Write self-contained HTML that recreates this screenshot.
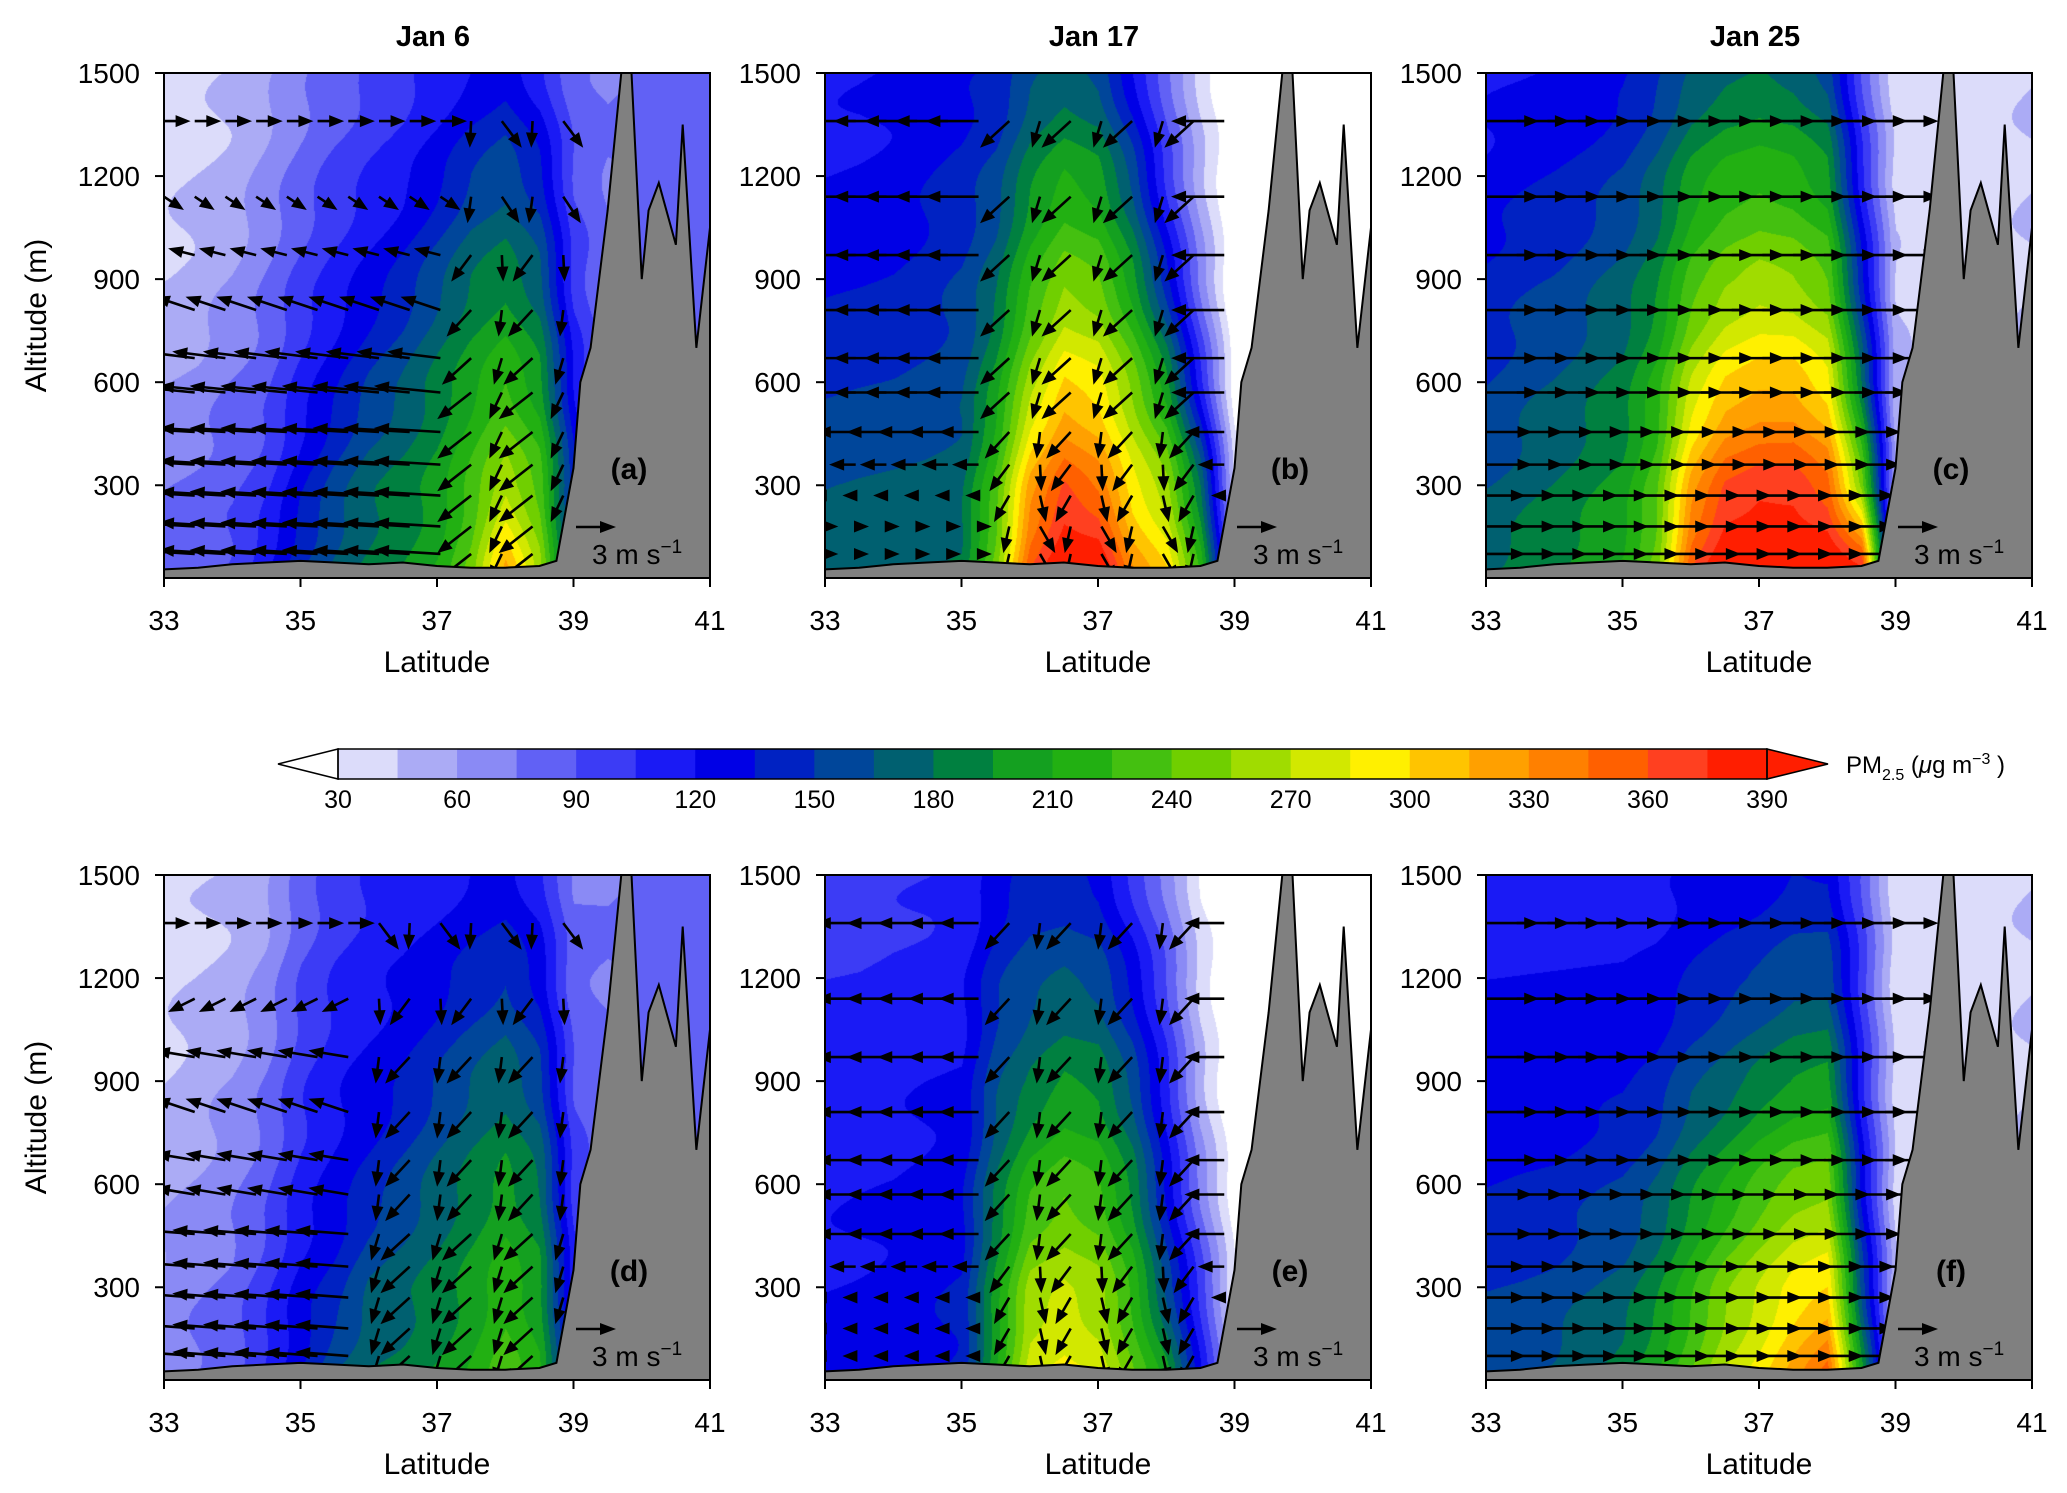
<!DOCTYPE html>
<html><head><meta charset="utf-8"><style>
body{margin:0;background:#fff;width:2067px;height:1493px;overflow:hidden;position:relative;font-family:"Liberation Sans",sans-serif}
canvas{position:absolute}
svg{position:absolute;left:0;top:0}
</style></head><body>
<div id="canv"></div>
<svg id="main" width="2067" height="1493"></svg>
<script>
// ---- data ----
const lats = [33,33.5,34,34.5,35,35.5,36,36.5,37,37.5,38,38.5,39,39.5,40,40.5,41];
const alts = [50,300,600,900,1200,1500];
const levels = [30,45,60,75,90,105,120,135,150,165,180,195,210,225,240,255,270,285,300,315,330,345,360,375,390];
const colorsPM = ["#dcdcfa","#ababf5","#8a8af5","#6161f5","#3c3cf5","#1a1af5","#0000e6","#0022c2","#00469a","#006070","#008040","#14a020","#22b012","#44c010","#70cf00","#a0dc00","#d2e800","#fff000","#ffc400","#ffa000","#ff8000","#ff6000","#ff4020","#ff1e00"];
const terrainLat = [33,33.5,34,34.5,35,35.5,36,36.5,37,37.5,38,38.5,38.75,39,39.1,39.25,39.5,39.7,39.85,40,40.1,40.25,40.5,40.6,40.8,41];
const terrainAlt = [55,60,70,75,80,75,70,75,65,60,60,65,80,350,600,700,1100,1500,1500,900,1100,1180,1000,1350,700,1050];
const fieldA = [[80,75,60,45,40,40],[85,80,65,50,45,40],[95,85,75,60,50,45],[120,100,85,75,65,55],[150,130,110,95,80,70],[170,155,130,110,95,80],[185,175,150,125,105,90],[195,185,165,140,115,100],[210,200,185,160,130,110],[245,230,205,180,150,120],[320,265,225,190,160,130],[260,235,200,170,140,110],[140,140,120,100,90,80],[75,75,75,75,75,75],[80,80,80,80,80,80],[80,80,80,80,80,80],[80,80,80,80,80,80]];
const fieldB = [[175,165,145,130,120,115],[178,168,148,132,122,117],[180,170,150,135,125,120],[182,172,155,142,132,125],[185,175,160,150,140,130],[250,230,200,175,155,135],[360,320,260,220,190,160],[400,360,300,250,210,170],[400,340,290,240,200,160],[330,290,250,200,160,120],[300,260,200,140,100,80],[220,180,110,70,50,40],[60,40,20,10,10,10],[15,15,15,15,15,15],[20,20,20,20,20,20],[20,20,20,20,20,20],[20,20,20,20,20,20]];
const fieldC = [[180,165,150,140,125,115],[188,172,158,145,130,117],[195,180,165,150,135,120],[205,190,175,160,142,125],[215,200,185,170,150,130],[250,235,215,190,170,145],[360,320,270,230,200,165],[400,360,300,250,215,175],[400,370,310,260,220,180],[400,370,310,255,215,175],[400,350,290,240,200,160],[380,250,180,140,110,90],[50,50,50,45,40,35],[35,35,35,35,35,35],[35,35,35,35,35,35],[40,40,40,40,40,40],[45,45,45,45,45,45]];
const fieldD = [[70,65,55,45,40,40],[78,72,62,52,45,42],[85,80,70,60,50,45],[110,100,85,75,65,55],[135,125,110,100,90,80],[165,140,125,115,105,95],[180,165,140,125,115,105],[185,175,155,135,120,110],[195,185,170,150,130,115],[210,200,185,165,140,120],[235,220,200,175,150,125],[210,200,180,155,130,110],[120,110,100,90,80,75],[75,75,75,75,75,75],[80,80,80,80,80,80],[80,80,80,80,80,80],[80,80,80,80,80,80]];
const fieldE = [[125,120,115,110,105,95],[128,122,118,112,106,97],[130,125,120,115,110,100],[135,130,125,118,112,102],[140,135,130,120,115,105],[210,200,180,160,145,125],[280,260,220,180,160,140],[290,270,235,195,165,140],[280,260,225,190,160,130],[240,220,190,160,130,100],[200,160,130,110,90,70],[120,100,70,50,40,30],[40,30,20,10,10,10],[15,15,15,15,15,15],[15,15,15,15,15,15],[15,15,15,15,15,15],[15,15,15,15,15,15]];
const fieldF = [[160,150,135,125,120,115],[165,152,138,125,120,115],[170,155,140,125,120,115],[180,162,145,128,120,115],[190,170,150,130,120,115],[210,190,165,140,125,115],[240,220,190,160,135,120],[270,250,210,170,145,125],[290,270,230,185,150,130],[320,290,245,195,160,135],[350,300,250,200,160,135],[200,160,130,110,100,90],[50,45,40,40,35,35],[35,35,35,35,35,35],[35,35,35,35,35,35],[40,40,40,40,40,40],[45,45,45,45,45,45]];
const arrowAlts = [100,180,270,360,455,570,670,810,970,1140,1360];
const arrowLats = [33.0,33.45,33.9,34.35,34.8,35.25,35.7,36.15,36.6,37.05,37.5,37.95,38.4,38.85];
const uA = [-5,-5,-5,-5,-5,-5,-4,-3,-2,1.5,2];
const uB = [1,1,-1,-2,-3,-4,-4,-4,-4,-4,-4];
const uC = [3,3,3,3.5,3.5,4,4,4,4,4,4];
const uD = [-4,-4,-4,-4,-4,-3,-3,-3,-3,-2,2];
const uE = [-1,-1,-1,-2,-3,-3,-3,-3,-3,-3,-3];
const uF = [3,3,3,3,3.5,3.5,4,4,4,4,4];
const wA = [0.3,0.3,0.3,0.3,0.3,0.5,0.5,1,0.5,-1,0];
const plumeA=[37.4,38.9], plumeB=[35.4,38.5], plumeC=[0,0], plumeD=[36,38.9], plumeE=[35.4,38.5], plumeF=[0,0];
const xTicks=[33,35,37,39,41], yTicks=[300,600,900,1200,1500];
const cbTicks=[30,60,90,120,150,180,210,240,270,300,330,360,390];

const panels=[
 {id:'a',title:'Jan 6',x0:164,y0:73,field:fieldA,u:uA,w:wA,plume:plumeA,ylab:true},
 {id:'b',title:'Jan 17',x0:825,y0:73,field:fieldB,u:uB,w:null,plume:plumeB},
 {id:'c',title:'Jan 25',x0:1486,y0:73,field:fieldC,u:uC,w:null,plume:plumeC},
 {id:'d',x0:164,y0:875,field:fieldD,u:uD,w:wA,plume:plumeD,ylab:true},
 {id:'e',x0:825,y0:875,field:fieldE,u:uE,w:null,plume:plumeE},
 {id:'f',x0:1486,y0:875,field:fieldF,u:uF,w:null,plume:plumeF}];
const PW=546, PH=505, ZMIN=30, ZMAX=1500, K=13.3;
const NS='http://www.w3.org/2000/svg';
const svg=document.getElementById('main');
function el(tag,attrs,parent,txt){const e=document.createElementNS(NS,tag);for(const k in attrs)e.setAttribute(k,attrs[k]);if(txt!==undefined)e.textContent=txt;(parent||svg).appendChild(e);return e;}
function interp(xs,ys,x){if(x<=xs[0])return ys[0];for(let i=1;i<xs.length;i++){if(x<=xs[i]){const t=(x-xs[i-1])/(xs[i]-xs[i-1]);return ys[i-1]+t*(ys[i]-ys[i-1]);}}return ys[ys.length-1];}
function colorIdx(v){if(v<levels[0])return -1;let i=Math.floor((v-levels[0])/15);return Math.min(i,23);}
function hex(c){return [parseInt(c.substr(1,2),16),parseInt(c.substr(3,2),16),parseInt(c.substr(5,2),16)];}
const rgb=colorsPM.map(hex);

panels.forEach(p=>{
 const sx=lat=>p.x0+(lat-33)/8*PW;
 const sy=z=>p.y0+PH-(z-ZMIN)/(ZMAX-ZMIN)*PH;
 const c=document.createElement('canvas');c.width=PW;c.height=PH;c.style.left=p.x0+'px';c.style.top=p.y0+'px';
 
 
 document.getElementById('canv').appendChild(c);
 const ctx=c.getContext('2d');const img=ctx.createImageData(PW,PH);
 const cols=lats.map((l,i)=>p.field[i]);
 for(let px=0;px<PW;px++){
  const lat=33+px/PW*8;
  let i=Math.min(Math.floor((lat-33)/0.5),15);const t=(lat-lats[i])/0.5;
  const prof=alts.map((a,k)=>cols[i][k]*(1-t)+cols[i+1][k]*t);
  for(let py=0;py<PH;py++){
   const z=ZMAX-(py/PH)*(ZMAX-ZMIN);
   const v=interp(alts,prof,z)+3*Math.sin(py*0.06+px*0.01);
   const ci=colorIdx(v);const o=(py*PW+px)*4;
   const col=ci<0?[255,255,255]:rgb[ci];
   img.data[o]=col[0];img.data[o+1]=col[1];img.data[o+2]=col[2];img.data[o+3]=255;}
 }
 ctx.putImageData(img,0,0);
 const cid='clip'+p.id;const cp=el('clipPath',{id:cid});el('rect',{x:p.x0,y:p.y0,width:PW,height:PH},cp);
 const g=el('g',{'clip-path':'url(#'+cid+')'});
 
 
 arrowAlts.forEach((a,r)=>{arrowLats.forEach((la,ci)=>{
   const terr=interp(terrainLat,terrainAlt,la);if(a<terr+20)return;
   let u=p.u[r],w=p.w?p.w[r]:0;
   if(la>=p.plume[0]&&la<=p.plume[1]){w=-2;u=u*0.35+((ci%2)?0.8:-0.8);}
   const x1=sx(la),y1=sy(a),x2=x1+u*K,y2=y1-w*K;
   const L=Math.hypot(x2-x1,y2-y1);if(L<3)return;
   const ux=(x2-x1)/L,uy=(y2-y1)/L;
   el('line',{x1,y1,x2:x2-ux*8,y2:y2-uy*8,stroke:'#000','stroke-width':2.6},g);
   el('polygon',{points:`${x2},${y2} ${x2-ux*15-uy*6},${y2-uy*15+ux*6} ${x2-ux*15+uy*6},${y2-uy*15-ux*6}`,fill:'#000'},g);
 });});
 let pts=`${sx(33)},${p.y0+PH} `;terrainLat.forEach((l,i)=>{pts+=`${sx(l)},${Math.max(sy(terrainAlt[i]),p.y0)} `;});pts+=`${sx(41)},${p.y0+PH}`;
 const tp=el('polygon',{points:pts,fill:'#808080',stroke:'#000','stroke-width':2},g);
 
 
 el('rect',{x:p.x0,y:p.y0,width:PW,height:PH,fill:'none',stroke:'#000','stroke-width':2});
 xTicks.forEach(v=>{const x=sx(v);el('line',{x1:x,y1:p.y0+PH,x2:x,y2:p.y0+PH+9,stroke:'#000','stroke-width':2});
   const t=el('text',{x:x,y:p.y0+PH+52,'font-size':28,'text-anchor':'middle'},svg,v);});
 yTicks.forEach(v=>{const y=sy(v);el('line',{x1:p.x0-9,y1:y,x2:p.x0,y2:y,stroke:'#000','stroke-width':2});
   const t=el('text',{x:p.x0-24,y:y+10,'font-size':28,'text-anchor':'end'},svg,v);});
 const xl=el('text',{x:p.x0+PW/2,y:p.y0+PH+94,'font-size':30,'text-anchor':'middle'},svg,'Latitude');
 
 if(p.ylab){const yl=el('text',{x:0,y:0,'font-size':30,'text-anchor':'middle',transform:`translate(46,${p.y0+PH/2-10}) rotate(-90)`},svg,'Altitude (m)');
  }
 if(p.title){const tt=el('text',{x:p.x0+PW/2-4,y:46,'font-size':29,'font-weight':'bold','text-anchor':'middle'},svg,p.title);
  }
 const pl=el('text',{x:p.x0+465,y:p.y0+406,'font-size':30,'font-weight':'bold','text-anchor':'middle'},svg,'('+p.id+')');
 
 const rx=p.x0+412,ry=p.y0+454;
 el('line',{x1:rx,y1:ry,x2:rx+28,y2:ry,stroke:'#000','stroke-width':2.6});
 el('polygon',{points:`${rx+40},${ry} ${rx+24},${ry-6} ${rx+24},${ry+6}`,fill:'#000'});
 const rt=el('text',{x:rx+16,y:ry+37,'font-size':28},svg);
 rt.textContent='3 m s';el('tspan',{dy:-11,'font-size':19},rt,'−1');
});
const cbx0=338,cbx1=1767,cby=749,cbh=30,bw=(cbx1-cbx0)/24;
const cb=el('g',{});
colorsPM.forEach((c,i)=>el('rect',{x:cbx0+i*bw,y:cby,width:bw+0.5,height:cbh,fill:c},cb));
el('polygon',{points:`${cbx0},${cby} ${278},${cby+cbh/2} ${cbx0},${cby+cbh}`,fill:'#fff',stroke:'#000','stroke-width':1.5},cb);
el('polygon',{points:`${cbx1},${cby} ${1828},${cby+cbh/2} ${cbx1},${cby+cbh}`,fill:'#ff1e00',stroke:'#000','stroke-width':1.5},cb);
el('rect',{x:cbx0,y:cby,width:cbx1-cbx0,height:cbh,fill:'none',stroke:'#000','stroke-width':1.5},cb);
cbTicks.forEach(v=>{const x=cbx0+(v-30)/360*(cbx1-cbx0);el('text',{x:x,y:cby+59,'font-size':25,'text-anchor':'middle'},cb,v);});
const ct=el('text',{x:1846,y:cby+24,'font-size':24},svg);
ct.textContent='PM';el('tspan',{dy:7,'font-size':16},ct,'2.5');el('tspan',{dy:-7},ct,' (');el('tspan',{'font-style':'italic'},ct,'μ');el('tspan',{},ct,'g m');el('tspan',{dy:-9,'font-size':16},ct,'−3');el('tspan',{dy:9},ct,' )');
</script>
</body></html>
